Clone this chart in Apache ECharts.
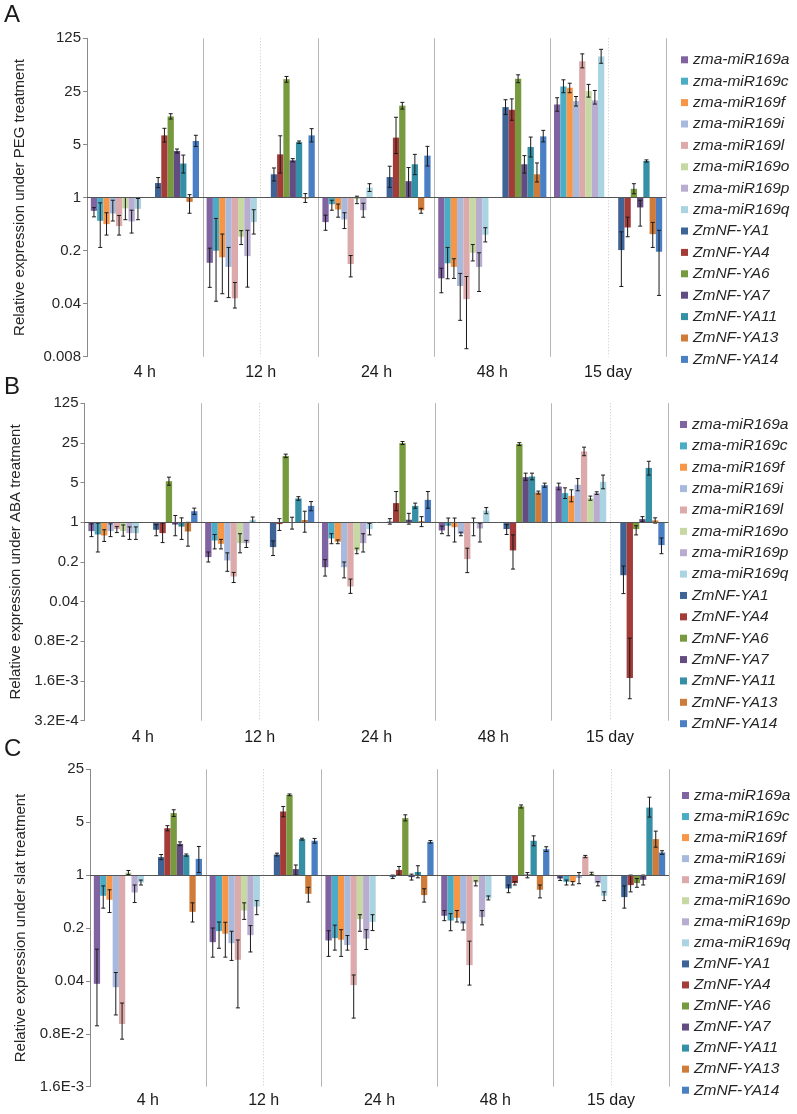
<!DOCTYPE html>
<html>
<head>
<meta charset="utf-8">
<script src="https://cdn.jsdelivr.net/npm/echarts@6/dist/echarts.min.js"></script>
<style>html,body{margin:0;padding:0;background:#fff}#c{width:797px;height:1114px}</style>
</head>
<body>
<div id="c"></div>
<script>
const GROUPS = ['4 h', '12 h', '24 h', '48 h', '15 day'];
const SERIES = ['zma-miR169a','zma-miR169c','zma-miR169f','zma-miR169i','zma-miR169l','zma-miR169o','zma-miR169p','zma-miR169q',
  'ZmNF-YA1','ZmNF-YA4','ZmNF-YA6','ZmNF-YA7','ZmNF-YA11','ZmNF-YA13','ZmNF-YA14'];
const COLORS = ['#8064A2','#4BACC6','#F79646','#A7B9DD','#DDAAAB','#C6D9A3','#B8ACD0','#AAD4E1',
  '#3E6397','#A33B39','#789A3E','#634C82','#3590A6','#D07B38','#4A7FC4'];

const TICKS_A = ['0.008','0.04','0.2','1','5','25','125'];
const TICKS_B = ['3.2E-4','1.6E-3','0.8E-2','0.04','0.2','1','5','25','125'];
const TICKS_C = ['1.6E-3','0.8E-2','0.04','0.2','1','5','25'];

// rows: series (order of SERIES); columns: GROUPS
const PEG_VAL = [
  [0.667,0.138,0.474,0.0861,16.8],[0.493,0.199,0.816,0.136,29],[0.446,0.163,0.695,0.122,27.9],[0.616,0.122,0.514,0.0683,18.6],
  [0.42,0.047,0.133,0.0458,62.5],[0.72,0.304,0.95,0.187,25.2],[0.484,0.169,0.68,0.122,19],[0.71,0.474,1.35,0.323,71.8],
  [1.55,2.02,1.86,15.5,0.203],[6.58,3.7,6.15,14.3,0.403],[11.7,36.2,16.2,36.6,1.3],[4.1,3.09,1.64,2.74,0.74],
  [2.8,5.37,2.74,4.62,3.03],[0.875,0.97,0.68,2.02,0.329],[5.55,6.58,3.56,6.38,0.193]];
const PEG_HI = [
  [0.735,0.215,0.585,0.117,20.6],[0.85,0.53,0.92,0.22,35.5],[0.63,0.33,0.82,0.156,32],[0.92,0.22,0.63,0.1,21.4],
  [0.58,0.076,0.172,0.091,78],[1.0,0.366,1.04,0.24,30.9],[0.68,0.37,0.84,0.187,25.7],[0.97,0.69,1.52,0.4,89.5],
  [1.83,2.45,2.58,19.4,0.353],[8.15,6.5,11.4,19.9,0.55],[12.7,39.3,17.9,41.3,1.52],[4.35,3.25,2.48,3.56,0.92],
  [3.62,5.55,3.7,6.25,3.13],[1.09,1.125,0.72,2.85,0.47],[6.6,8.07,4.72,7.66,0.37]];
const PEG_LO = [
  [0.556,0.0655,0.37,0.0556,13.7],[0.22,0.043,0.68,0.085,24],[0.32,0.054,0.55,0.086,24],[0.49,0.048,0.39,0.0241,16],
  [0.32,0.035,0.09,0.0102,51],[0.51,0.24,0.83,0.146,21],[0.34,0.066,0.55,0.0578,17],[0.51,0.33,1.2,0.26,58.6],
  [1.35,1.65,1.36,12.4,0.0673],[5.37,2.1,3.79,10.4,0.304],[10.8,33,14.6,32.5,1.12],[3.85,2.95,1.0,2.1,0.42],
  [2.1,5.15,2.0,3.42,2.93],[0.62,0.86,0.62,1.6,0.22],[4.7,5.4,2.6,5.4,0.0513]];

const ABA_VAL = [
  [0.70,0.244,0.162,0.72,4.27],[0.61,0.478,0.52,0.87,3.27],[0.586,0.418,0.454,0.82,2.93],[0.70,0.213,0.162,0.627,4.58],
  [0.76,0.111,0.074,0.225,17.7],[0.70,0.43,0.32,0.95,2.67],[0.645,0.43,0.43,0.78,3.27],[0.645,1.11,0.76,1.61,5.17],
  [0.74,0.366,1.03,0.76,0.117],[0.645,0.93,2.18,0.32,0.00181],[5.3,14.8,24.9,24,0.76],[0.915,1.0,1.11,6.25,1.14],
  [0.84,2.63,1.95,6.4,9.1],[0.69,1.1,1.05,3.35,1.08],[1.57,1.95,2.49,4.52,0.397]];
const ABA_HI = [
  [0.94,0.3,0.22,0.86,4.9],[0.97,0.61,0.63,1.19,4.05],[0.74,0.5,0.49,1.19,3.74],[0.94,0.29,0.2,0.67,5.9],
  [0.84,0.131,0.1,0.35,21.1],[0.90,0.63,0.35,1.19,2.9],[0.83,0.48,0.63,0.97,3.45],[0.83,1.24,0.96,1.82,6.8],
  [0.91,0.47,1.16,0.91,0.17],[0.97,1.16,3.49,0.6,0.0091],[6.25,15.9,26.5,25.3,0.87],[1.32,1.23,1.44,7.35,1.26],
  [1.2,2.83,2.18,7.35,11.9],[1.0,1.57,1.26,3.55,1.2],[1.78,2.32,3.49,4.9,0.53]];
const ABA_LO = [
  [0.56,0.2,0.113,0.63,3.75],[0.30,0.34,0.42,0.58,2.63],[0.46,0.34,0.42,0.45,2.3],[0.56,0.137,0.105,0.58,3.6],
  [0.66,0.087,0.056,0.13,14.9],[0.57,0.29,0.28,0.58,2.45],[0.50,0.36,0.3,0.45,3.1],[0.50,1.0,0.6,1.42,3.9],
  [0.58,0.26,0.93,0.61,0.0555],[0.44,0.72,1.6,0.15,0.00078],[4.51,13.8,23.5,22.5,0.6],[0.58,0.76,0.93,5.5,1.02],
  [0.5,2.45,1.77,5.6,6.8],[0.38,0.67,0.84,3.15,0.97],[1.38,1.6,1.77,4.15,0.28]];

const SALT_VAL = [
  [0.0366,0.13,0.137,0.29,0.9],[0.533,0.182,0.147,0.251,0.815],[0.472,0.168,0.14,0.273,0.815],[0.033,0.126,0.119,0.227,0.92],
  [0.0108,0.076,0.0352,0.0645,1.76],[1.08,0.34,0.262,0.8,1.05],[0.589,0.161,0.145,0.279,0.784],[0.8,0.384,0.241,0.491,0.533],
  [1.73,1.87,0.94,0.666,0.512],[4.17,6.93,1.17,0.784,0.738],[6.6,11.5,5.66,8.07,0.784],[2.59,1.2,0.94,1.02,0.866],
  [1.84,2.99,1.1,2.84,7.8],[0.327,0.566,0.544,0.64,2.99],[1.64,2.84,2.75,2.2,1.99]];
const SALT_HI = [
  [0.105,0.2,0.184,0.34,0.94],[0.72,0.24,0.218,0.31,0.86],[0.64,0.238,0.19,0.34,0.82],[0.0516,0.181,0.159,0.24,1.08],
  [0.0204,0.139,0.0479,0.134,1.82],[1.15,0.43,0.3,0.84,1.09],[0.74,0.215,0.19,0.34,0.82],[0.86,0.46,0.3,0.53,0.6],
  [1.87,1.95,1.0,0.74,0.72],[4.5,8.07,1.3,0.82,1.0],[7.3,11.8,6.26,8.45,0.9],[2.75,1.36,1.03,1.08,1.0],
  [1.9,3.07,1.33,3.3,10.7],[0.43,0.69,0.66,0.74,3.81],[2.39,3.05,2.86,2.37,2.1]];
const SALT_LO = [
  [0.0102,0.0824,0.0843,0.25,0.85],[0.366,0.108,0.102,0.184,0.74],[0.32,0.0824,0.0843,0.24,0.74],[0.0142,0.0746,0.102,0.188,0.77],
  [0.0068,0.0176,0.0129,0.0352,1.7],[1.02,0.26,0.181,0.72,1.01],[0.434,0.0965,0.104,0.22,0.72],[0.74,0.3,0.185,0.47,0.46],
  [1.6,1.79,0.9,0.585,0.366],[3.85,5.9,1.0,0.74,0.6],[5.95,11.2,5.2,7.7,0.69],[2.45,1.0,0.86,0.92,0.74],
  [1.78,2.9,0.92,2.44,5.84],[0.24,0.44,0.44,0.5,2.34],[1.08,2.64,2.65,2.05,1.88]];

const PANELS = [
  {letter:'A', name:'Relative expression under PEG treatment', ticks:TICKS_A, val:PEG_VAL, hi:PEG_HI, lo:PEG_LO,
   grid:{left:87, top:38.3, width:579, height:318.4}, nameGap:60, labelMargin:8, letterTop:15.5, legendTop:51.8, legendGap:5.4, legendLeft:681},
  {letter:'B', name:'Relative expression under ABA treatment', ticks:TICKS_B, val:ABA_VAL, hi:ABA_HI, lo:ABA_LO,
   grid:{left:84.5, top:403.3, width:584, height:317.4}, nameGap:57, labelMargin:9, letterTop:387.5, legendTop:416.5, legendGap:5.37, legendLeft:680},
  {letter:'C', name:'Relative expression under slat treatment', ticks:TICKS_C, val:SALT_VAL, hi:SALT_HI, lo:SALT_LO,
   grid:{left:90, top:769.3, width:579, height:317.4}, nameGap:62, labelMargin:6, letterTop:749, legendTop:787.5, legendGap:5.05, legendLeft:682}
];

const FONT = '"Liberation Sans", Arial, sans-serif';
const log5 = v => Math.log(v) / Math.log(5);

function renderItem(params, api) {
  const cat = api.value(0), v = api.value(1), lo = api.value(2), hi = api.value(3), slot = api.value(4);
  const base = api.coord([cat, 1]);
  const end = api.coord([cat, v]);
  const band = api.coord([1, 1])[0] - api.coord([0, 1])[0];
  const bw = band * 0.1085;
  const x0 = base[0] - 4 * bw + slot * bw;
  const cx = x0 + bw / 2;
  const yHi = api.coord([cat, hi])[1];
  const yLo = api.coord([cat, lo])[1];
  const cap = 2;
  const es = {stroke: '#1a1a1a', lineWidth: 1};
  return {
    type: 'group',
    children: [
      {type: 'rect', shape: {x: x0, y: Math.min(base[1], end[1]), width: bw, height: Math.abs(end[1] - base[1])},
       style: {fill: api.visual('color')}},
      {type: 'line', shape: {x1: cx, y1: yHi, x2: cx, y2: yLo}, style: es},
      {type: 'line', shape: {x1: cx - cap, y1: yHi, x2: cx + cap, y2: yHi}, style: es},
      {type: 'line', shape: {x1: cx - cap, y1: yLo, x2: cx + cap, y2: yLo}, style: es}
    ]
  };
}

const option = {
  animation: false,
  textStyle: {fontFamily: FONT},
  grid: [], xAxis: [], yAxis: [], series: [], legend: [], graphic: []
};

PANELS.forEach((p, k) => {
  option.grid.push(Object.assign({containLabel: false}, p.grid));
  const halfCats = [];
  GROUPS.forEach(g => { halfCats.push(g + ' miR169'); halfCats.push(g + ' ZmNF-YA'); });
  option.xAxis.push({
    type: 'category', gridIndex: k, data: halfCats, position: 'top',
    axisLine: {show: false}, axisTick: {show: false}, axisLabel: {show: false},
    splitLine: {show: true, lineStyle: {color: '#c8c8c8', type: [1, 2], width: 1}}
  });
  option.xAxis.push({
    type: 'category', gridIndex: k, data: GROUPS, position: 'bottom',
    axisLine: {show: false}, axisTick: {show: false},
    axisLabel: {fontSize: 16, color: '#1a1a1a', margin: p.labelMargin},
    splitLine: {show: true, lineStyle: {color: '#b5b5b5', type: 'solid', width: 1}}
  });
  const minV = parseFloat(p.ticks[0]), maxV = parseFloat(p.ticks[p.ticks.length - 1]);
  const minExp = Math.round(log5(minV));
  option.yAxis.push({
    type: 'log', logBase: 5, gridIndex: k, min: minV, max: maxV,
    axisLine: {show: true, lineStyle: {color: '#8a8a8a'}},
    axisTick: {show: true, length: 4, lineStyle: {color: '#8a8a8a'}},
    splitLine: {show: false},
    axisLabel: {fontSize: 15, color: '#262626', margin: 6,
      formatter: v => { const i = Math.round(log5(v)) - minExp; return p.ticks[i] !== undefined ? p.ticks[i] : ''; }},
    name: p.name, nameLocation: 'middle', nameGap: p.nameGap, nameRotate: 90,
    nameTextStyle: {fontSize: 15, color: '#262626'}
  });
  SERIES.forEach((sName, s) => {
    const isMir = s < 8;
    const data = GROUPS.map((g, gi) => [gi * 2 + (isMir ? 0 : 1), p.val[s][gi], p.lo[s][gi], p.hi[s][gi], isMir ? s : s - 7]);
    const ser = {
      type: 'custom', name: sName, xAxisIndex: 2 * k, yAxisIndex: k,
      itemStyle: {color: COLORS[s]},
      encode: {x: 0, y: 1},
      renderItem: renderItem,
      data: data
    };
    if (s === 0) {
      ser.markLine = {silent: true, symbol: ['none', 'none'], label: {show: false},
        lineStyle: {color: '#555', width: 1, type: 'solid'}, data: [{yAxis: 1}], animation: false};
    }
    option.series.push(ser);
  });
  option.legend.push({
    orient: 'vertical', left: p.legendLeft, top: p.legendTop, padding: 0, itemWidth: 7, itemHeight: 7, itemGap: p.legendGap,
    icon: 'rect', data: SERIES, selectedMode: false,
    textStyle: {fontSize: 15.5, fontStyle: 'italic', color: '#262626', lineHeight: 15, fontFamily: FONT}
  });
  option.graphic.push({
    type: 'text', left: 4, top: p.letterTop - 12,
    style: {text: p.letter, fontSize: 24, fill: '#1a1a1a', fontFamily: FONT}
  });
});

const chart = echarts.init(document.getElementById('c'), null, {renderer: 'canvas'});
chart.setOption(option);
</script>
</body>
</html>
